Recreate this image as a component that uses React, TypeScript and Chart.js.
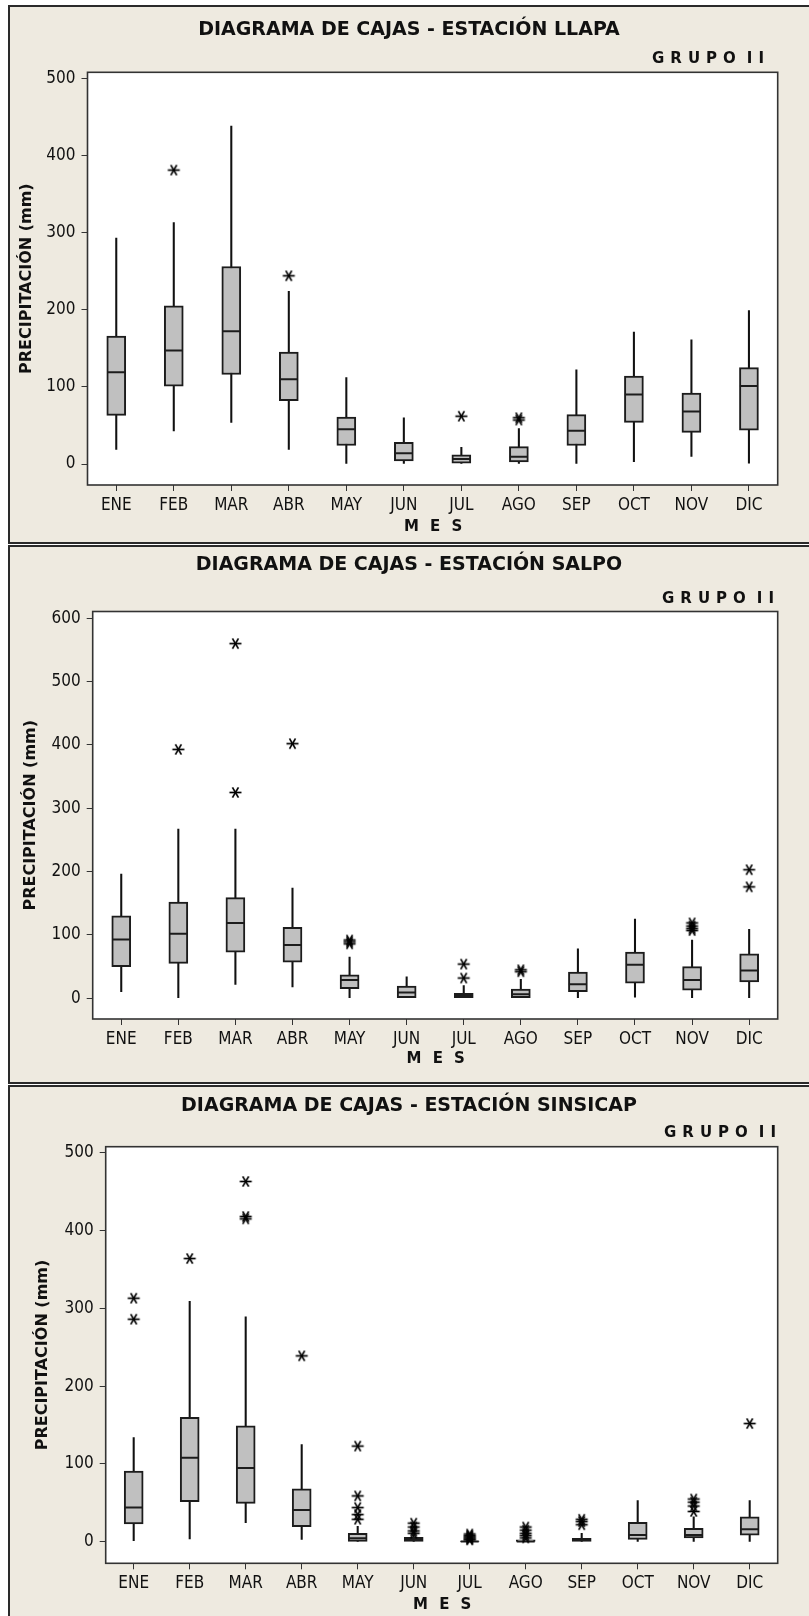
import React, { useEffect, useRef } from 'react';
import { Chart, registerables } from 'chart.js';

Chart.register(...registerables);

// ---------------- DATA ----------------
const MONTHS = ['ENE', 'FEB', 'MAR', 'ABR', 'MAY', 'JUN', 'JUL', 'AGO', 'SEP', 'OCT', 'NOV', 'DIC'];

// Estación LLAPA
const LLAPA_MIN = [19, 43, 54, 19, 0, 0, 0, 0, 0, 3, 10, 1];
const LLAPA_Q1 = [63, 101, 116, 82, 24, 4, 1, 2.6, 24, 54, 41, 44];
const LLAPA_MED = [119, 147, 172, 110, 45, 14, 6.5, 9.5, 43, 90, 68, 101];
const LLAPA_Q3 = [166, 205, 256, 145, 61, 28, 12, 22.5, 64, 114, 92, 125];
const LLAPA_MAX = [293, 313, 438, 224, 112, 60, 21.6, 46, 122, 171, 161, 199];
const LLAPA_OUTLIER_MONTHS = ['FEB', 'ABR', 'JUL', 'AGO', 'AGO'];
const LLAPA_OUTLIER_VALUES = [381, 244, 62, 60, 57];
const LLAPA_Y_TICKS = [0, 100, 200, 300, 400, 500];

// Estación SALPO
const SALPO_MIN = [10.5, 0, 22, 18, 0, 0, 0, 0, 0, 1.6, 0, 0];
const SALPO_Q1 = [50, 55, 73, 57, 15, 0, 0, 0, 10.5, 24, 13, 26];
const SALPO_MED = [93, 102, 119, 84, 29, 9, 3.6, 6.3, 22, 53, 29, 44];
const SALPO_Q3 = [130, 152, 159, 112, 37, 19.4, 8, 14.7, 41.5, 73, 50, 70];
const SALPO_MAX = [196, 267, 267, 174, 65, 34, 20, 30, 78, 125, 92, 109];
const SALPO_OUTLIER_MONTHS = ['FEB', 'MAR', 'MAR', 'ABR', 'MAY', 'MAY', 'MAY', 'JUL', 'JUL', 'AGO', 'AGO', 'NOV', 'NOV', 'NOV', 'NOV', 'DIC', 'DIC'];
const SALPO_OUTLIER_VALUES = [393, 560, 325, 402, 92, 89, 86, 54, 32, 45, 42, 119, 114, 110, 107, 203, 176];
const SALPO_Y_TICKS = [0, 100, 200, 300, 400, 500, 600];

// Estación SINSICAP
const SINSICAP_MIN = [1.4, 3.6, 24.6, 3.2, 0, 0, 0, 0, 0, 0, 0, 0];
const SINSICAP_Q1 = [23, 51.5, 49.5, 19.4, 0.6, 0, 0, 0, 0, 3.2, 4.9, 8.4];
const SINSICAP_MED = [44, 108, 95, 41, 4.5, 2.3, 0.3, 0.5, 2.3, 8.7, 8.7, 16];
const SINSICAP_Q3 = [91, 160, 149, 68, 11, 5.8, 0.8, 2.5, 4.5, 25, 17.3, 32];
const SINSICAP_MAX = [134, 309, 289, 125, 20, 9, 1.5, 3.5, 11, 53, 32, 53];
const SINSICAP_OUTLIER_MONTHS = ['ENE', 'ENE', 'FEB', 'MAR', 'MAR', 'MAR', 'ABR', 'MAY', 'MAY', 'MAY', 'MAY', 'MAY', 'JUN', 'JUN', 'JUN', 'JUN', 'JUL', 'JUL', 'JUL', 'JUL', 'JUL', 'JUL', 'AGO', 'AGO', 'AGO', 'AGO', 'AGO', 'SEP', 'SEP', 'SEP', 'NOV', 'NOV', 'NOV', 'NOV', 'DIC'];
const SINSICAP_OUTLIER_VALUES = [313, 286, 364, 463, 418, 415, 239, 123, 59, 44, 35, 29, 24, 19, 14, 11, 10, 8, 6.5, 5, 3.5, 2.5, 19, 15, 11, 8, 5, 29, 26, 22, 55, 51, 46, 39, 152];
const SINSICAP_Y_TICKS = [0, 100, 200, 300, 400, 500];

// ---------------- STYLE / LAYOUT ----------------
const W = 809;
const H = 539;
const PLOT_RIGHT = 777.7;
const TITLE_FONT = "'DejaVu Sans', 'Liberation Sans', sans-serif";
const TICK_FONT = "'DejaVu Sans Condensed', 'DejaVu Sans', sans-serif";
const PANEL_BG = '#EEEAE0';
const INK = '#111111';

type Series = { min: number[]; q1: number[]; med: number[]; q3: number[]; max: number[]; outM: string[]; outV: number[]; ticks: number[] };
type PanelCfg = {
  title: string; top: number; plotLeft: number; plotTop: number; plotBottom: number;
  yMin: number; yMax: number; yTitleX: number; titleY: number; subY: number; subRight: number; xTitleY: number;
  s: Series;
};

const PANELS: PanelCfg[] = [
  {
    title: 'DIAGRAMA DE CAJAS - ESTACIÓN LLAPA', top: 5, plotLeft: 87.5, plotTop: 67.3, plotBottom: 480,
    yMin: -27.2, yMax: 507.8, yTitleX: 27, titleY: 25.5, subY: 54, subRight: 764, xTitleY: 522,
    s: { min: LLAPA_MIN, q1: LLAPA_Q1, med: LLAPA_MED, q3: LLAPA_Q3, max: LLAPA_MAX, outM: LLAPA_OUTLIER_MONTHS, outV: LLAPA_OUTLIER_VALUES, ticks: LLAPA_Y_TICKS },
  },
  {
    title: 'DIAGRAMA DE CAJAS - ESTACIÓN SALPO', top: 545, plotLeft: 92.7, plotTop: 66.5, plotBottom: 474,
    yMin: -32.7, yMax: 610.7, yTitleX: 31, titleY: 20, subY: 54, subRight: 774, xTitleY: 514.5,
    s: { min: SALPO_MIN, q1: SALPO_Q1, med: SALPO_MED, q3: SALPO_Q3, max: SALPO_MAX, outM: SALPO_OUTLIER_MONTHS, outV: SALPO_OUTLIER_VALUES, ticks: SALPO_Y_TICKS },
  },
  {
    title: 'DIAGRAMA DE CAJAS - ESTACIÓN SINSICAP', top: 1085, plotLeft: 105.7, plotTop: 61.7, plotBottom: 478.3,
    yMin: -27.6, yMax: 507.7, yTitleX: 43, titleY: 21, subY: 48, subRight: 776, xTitleY: 520,
    s: { min: SINSICAP_MIN, q1: SINSICAP_Q1, med: SINSICAP_MED, q3: SINSICAP_Q3, max: SINSICAP_MAX, outM: SINSICAP_OUTLIER_MONTHS, outV: SINSICAP_OUTLIER_VALUES, ticks: SINSICAP_Y_TICKS },
  },
];

function makeAsterisk(): HTMLCanvasElement {
  const size = 15;
  const c = document.createElement('canvas');
  c.width = size;
  c.height = size;
  const g = c.getContext('2d')!;
  g.strokeStyle = '#000';
  g.lineWidth = 1.7;
  const r = 6;
  const cx = size / 2;
  const cy = size / 2;
  [0, Math.PI / 3, (2 * Math.PI) / 3].forEach((a) => {
    g.beginPath();
    g.moveTo(cx - r * Math.cos(a), cy - r * Math.sin(a));
    g.lineTo(cx + r * Math.cos(a), cy + r * Math.sin(a));
    g.stroke();
  });
  return c;
}

const framePlugin = {
  id: 'plotFrame',
  beforeDraw(chart: any) {
    const { ctx, chartArea: a } = chart;
    ctx.save();
    ctx.fillStyle = '#ffffff';
    ctx.fillRect(a.left, a.top, a.right - a.left, a.bottom - a.top);
    ctx.restore();
  },
  afterDraw(chart: any) {
    const { ctx, chartArea: a } = chart;
    ctx.save();
    ctx.strokeStyle = '#333333';
    ctx.lineWidth = 1.6;
    ctx.strokeRect(a.left, a.top, a.right - a.left, a.bottom - a.top);
    ctx.restore();
  },
};

const textPlugin = {
  id: 'panelText',
  afterDraw(chart: any, _args: any, opts: any) {
    const { ctx, chartArea: a } = chart;
    ctx.save();
    ctx.fillStyle = INK;
    ctx.textBaseline = 'middle';
    ctx.font = `bold 19px ${TITLE_FONT}`;
    ctx.textAlign = 'center';
    ctx.fillText(opts.title, 409, opts.titleY);

    // "GRUPO II" with wide letter spacing
    ctx.font = `bold 15px ${TITLE_FONT}`;
    (ctx as any).letterSpacing = '6px';
    ctx.textAlign = 'right';
    const right = opts.subRight + 6;
    ctx.fillText('II', right, opts.subY);
    const iiW = ctx.measureText('II').width;
    ctx.fillText('GRUPO', right - iiW - 5, opts.subY);

    ctx.font = `bold 15px ${TITLE_FONT}`;
    (ctx as any).letterSpacing = '3px';
    ctx.textAlign = 'center';
    ctx.fillText('M E S', (a.left + a.right) / 2 + 2, opts.xTitleY);
    ctx.restore();
  },
};

function buildConfig(p: PanelCfg, star: HTMLCanvasElement): any {
  const s = p.s;
  return {
    type: 'bar',
    data: {
      labels: MONTHS,
      datasets: [
        {
          type: 'bar', label: 'Bigotes', data: s.min.map((v, i) => [v, s.max[i]]),
          backgroundColor: '#111', borderWidth: 0, barThickness: 1.4, grouped: false, order: 4,
        },
        {
          type: 'bar', label: 'Caja', data: s.q1.map((v, i) => [v, s.q3[i]]),
          backgroundColor: '#C0C0C0', borderColor: '#1c1c1c', borderWidth: 2, borderSkipped: false,
          barThickness: 19, grouped: false, order: 3,
        },
        {
          type: 'line', label: 'Mediana', data: s.med, showLine: false, pointStyle: 'line',
          pointRadius: 9, pointBorderWidth: 2, pointBorderColor: '#1c1c1c', borderColor: '#1c1c1c', order: 2,
        },
        {
          type: 'line', label: 'Atípicos', data: s.outM.map((m, i) => ({ x: m, y: s.outV[i] })),
          showLine: false, pointStyle: star, pointRadius: 7, order: 1,
        },
      ],
    },
    options: {
      responsive: false,
      animation: false,
      devicePixelRatio: 1,
      events: [],
      layout: { padding: { left: 0, top: p.plotTop, right: W - PLOT_RIGHT, bottom: 0 } },
      plugins: {
        legend: { display: false },
        tooltip: { enabled: false },
        title: { display: false },
        panelText: { title: p.title, titleY: p.titleY, subY: p.subY, subRight: p.subRight, xTitleY: p.xTitleY },
      },
      scales: {
        x: {
          type: 'category',
          offset: true,
          grid: { display: true, offset: false, drawOnChartArea: false, drawTicks: true, tickLength: 6, color: '#333', lineWidth: 1 },
          border: { display: false },
          ticks: { color: INK, font: { family: TICK_FONT, size: 17 }, padding: 4, maxRotation: 0, autoSkip: false },
          afterFit: (sc: any) => { sc.height = H - p.plotBottom; },
        },
        y: {
          type: 'linear',
          min: p.yMin,
          max: p.yMax,
          bounds: 'data',
          afterBuildTicks: (sc: any) => { sc.ticks = s.ticks.map((v) => ({ value: v })); },
          grid: { display: true, drawOnChartArea: false, drawTicks: true, tickLength: 6, color: '#333', lineWidth: 1 },
          border: { display: false },
          ticks: { color: INK, font: { family: TICK_FONT, size: 17 }, padding: 6 },
          title: {
            display: true, text: 'PRECIPITACIÓN (mm)', color: INK,
            font: { family: TITLE_FONT, size: 16, weight: 'bold', lineHeight: 1.2 },
            padding: { top: p.yTitleX - 9.6, bottom: 0 },
          },
          afterFit: (sc: any) => { sc.width = p.plotLeft; },
        },
      },
    },
    plugins: [framePlugin, textPlugin],
  };
}

function Panel({ p }: { p: PanelCfg }) {
  const ref = useRef<HTMLCanvasElement>(null);
  useEffect(() => {
    const star = makeAsterisk();
    const chart = new Chart(ref.current as HTMLCanvasElement, buildConfig(p, star));
    return () => chart.destroy();
  }, [p]);
  return (
    <>
      <div
        style={{
          position: 'absolute', left: 8, top: p.top, width: 830, height: H,
          boxSizing: 'border-box', border: '2px solid #2a2a2a', background: PANEL_BG,
        }}
      />
      <canvas
        ref={ref}
        width={W}
        height={H}
        style={{ position: 'absolute', left: 0, top: p.top, width: W, height: H }}
      />
    </>
  );
}

export default function App() {
  useEffect(() => {
    document.body.style.margin = '0';
    document.body.style.overflow = 'hidden';
    document.documentElement.style.overflow = 'hidden';
  }, []);
  return (
    <div style={{ position: 'relative', width: 809, height: 1616, overflow: 'hidden', background: '#ffffff' }}>
      {PANELS.map((p) => (
        <Panel key={p.title} p={p} />
      ))}
    </div>
  );
}
